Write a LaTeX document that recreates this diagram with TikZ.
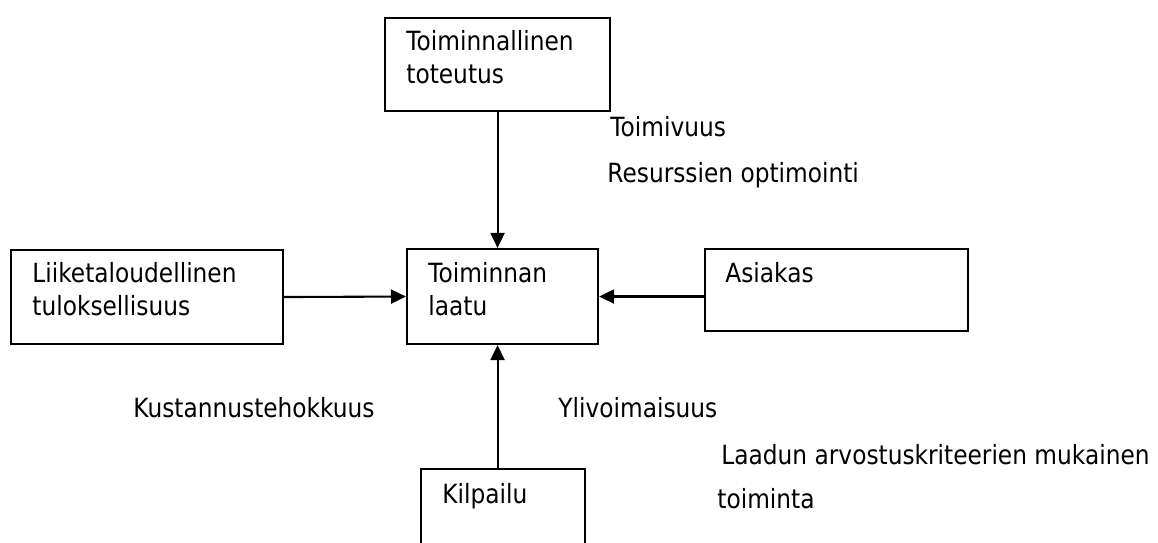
\documentclass[tikz,border=0pt]{standalone}
\usepackage{fontspec}
\setmainfont[FakeStretch=0.88]{DejaVu Sans}
\usetikzlibrary{arrows.meta}
\newcommand{\pxu}{0.48pt}
\tikzset{
  box/.style={draw, line width=1pt, anchor=north west, inner sep=0pt},
  txt/.style={anchor=base west, inner sep=0pt, align=left, font=\fontsize{12.7pt}{15.84pt}\selectfont},
  arr/.style={line width=1pt, -{Triangle[length=15*\pxu, width=14*\pxu]}}
}
\begin{document}
\begin{tikzpicture}[x=\pxu,y=-\pxu]
		\clip (0,0) rectangle (1158,543);
		% laatikot
		\node[box, minimum width=225*\pxu, minimum height=93*\pxu] (tot) at (384,17) {};
		\node[box, minimum width=191*\pxu, minimum height=95*\pxu] (laatu) at (406,248) {};
		\node[box, minimum width=272*\pxu, minimum height=94*\pxu] (talous) at (10,249) {};
		\node[box, minimum width=263*\pxu, minimum height=82*\pxu] (asiakas) at (704,248) {};
		\node[box, minimum width=164*\pxu, minimum height=120*\pxu] (kilp) at (420,468) {};
		% tekstit laatikoissa (ankkuri = viimeisen rivin perusviiva)
		\node[txt] (t1) at (406,84) {Toiminnallinen\\toteutus};
		\node[txt] (t2) at (428,316) {Toiminnan\\laatu};
		\node[txt] (t3) at (32,316) {Liiketaloudellinen\\tuloksellisuus};
		\node[txt] (t4) at (725,283) {Asiakas};
		\node[txt] (t5) at (442,504) {Kilpailu};
		% nuolet
		\draw[arr] (tot.south) -- (tot.south |- laatu.north);
		\draw[arr] (talous.east) -- (laatu.west);
		\draw[arr] (laatu.east -| asiakas.west) -- (laatu.east);
		\draw[arr] (tot.south |- kilp.north) -- (tot.south |- laatu.south);
		% vapaat tekstit
		\node[txt] (l1) at (610,137) {Toimivuus};
		\node[txt] (l2) at (607,183) {Resurssien optimointi};
		\node[txt] (l3) at (133,418) {Kustannustehokkuus};
		\node[txt] (l4) at (558,418) {Ylivoimaisuus};
		\node[txt] (l5) at (721,465) {Laadun arvostuskriteerien mukainen};
		\node[txt] (l6) at (717,509) {toiminta};
		\end{tikzpicture}
\end{document}
